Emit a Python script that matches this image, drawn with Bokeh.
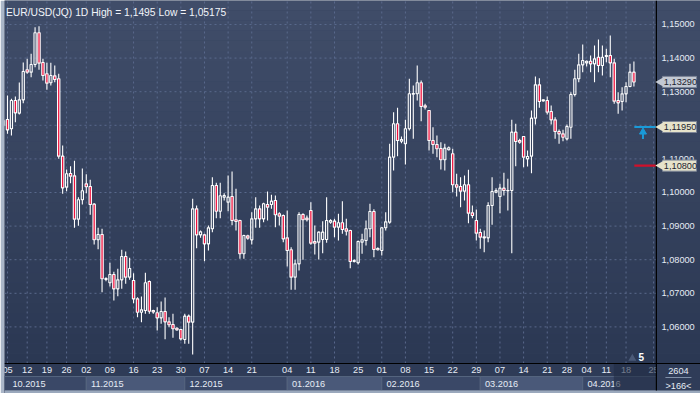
from bokeh.plotting import figure
from bokeh.models import Range1d, ColumnDataSource
from bokeh.core.properties import value
from bokeh.embed import file_html
from bokeh.resources import INLINE
import math

# ---------------- data (EUR/USD daily) ----------------
opens = [1.11994,1.12173,1.11895,1.12738,1.12361,1.12758,1.13651,1.13581,1.13810,1.14752,
         1.13869,1.13532,1.13264,1.13472,1.13383,1.11082,1.10159,1.10566,1.10496,1.09207,
         1.09782,1.10258,1.10179,1.09653,1.08592,1.08750,1.07411,1.07312,1.07560,1.07133,
         1.07401,1.08096,1.07481,1.07381,1.06835,1.06438,1.06488,1.07351,1.06488,1.06419,
         1.06270,1.06458,1.06151,1.06072,1.05962,1.05923,1.05625,1.06320,1.06141,1.09514,
         1.08740,1.08740,1.08472,1.08919,1.10208,1.09444,1.09861,1.09712,1.09881,1.09187,
         1.09167,1.08175,1.08710,1.08591,1.09216,1.09514,1.09216,1.09643,1.09643,1.09762,
         1.09366,1.09316,1.08651,1.08294,1.07481,1.07877,1.09346,1.09237,1.09465,1.08542,
         1.08522,1.08602,1.08602,1.09117,1.09147,1.08969,1.09098,1.08919,1.08869,1.07947,
         1.07907,1.08522,1.08572,1.08919,1.09435,1.08334,1.08274,1.08950,1.09117,1.11052,
         1.12044,1.11528,1.11449,1.11895,1.12927,1.12937,1.13264,1.12580,1.12441,1.11548,
         1.11429,1.11310,1.10973,1.11270,1.11151,1.10229,1.10179,1.10040,1.10229,1.09395,
         1.09167,1.08810,1.08681,1.08651,1.09614,1.10010,1.09882,1.10129,1.10060,1.10060,
         1.11796,1.11548,1.11667,1.11002,1.11081,1.12212,1.13204,1.12728,1.12738,1.12411,
         1.12162,1.11815,1.11746,1.11597,1.11944,1.12916,1.13383,1.13799,1.13859,1.13908,
         1.13829,1.14027,1.13779,1.14047,1.14077,1.13859,1.12738,1.12708,1.12936,1.13154,
         1.13581]
highs = [1.12193,1.12887,1.12788,1.12857,1.13274,1.13869,1.13978,1.14127,1.14921,1.14950,
         1.13978,1.13859,1.13859,1.13780,1.13532,1.11399,1.10685,1.10784,1.10943,1.09861,
         1.10715,1.10546,1.10377,1.09683,1.08949,1.08919,1.07481,1.07907,1.07639,1.07729,
         1.08294,1.08244,1.08056,1.07599,1.06885,1.06905,1.07609,1.07381,1.06508,1.06587,
         1.06756,1.06875,1.06290,1.06389,1.05992,1.05943,1.06389,1.06369,1.09812,1.09613,
         1.08869,1.08770,1.09018,1.10456,1.10288,1.10288,1.09980,1.10506,1.10625,1.10109,
         1.09187,1.08740,1.08740,1.09415,1.09861,1.09613,1.09692,1.10030,1.09931,1.09911,
         1.09415,1.09346,1.09465,1.08373,1.07996,1.09415,1.09386,1.09316,1.09713,1.09018,
         1.08840,1.09147,1.09862,1.09207,1.09217,1.09366,1.09742,1.09217,1.08889,1.08016,
         1.08572,1.08771,1.09167,1.09663,1.09505,1.08373,1.08969,1.09415,1.11449,1.12391,
         1.12520,1.11667,1.12163,1.13383,1.13185,1.13780,1.13334,1.12639,1.12451,1.11945,
         1.11697,1.11499,1.11449,1.11369,1.11300,1.10556,1.10457,1.10507,1.10675,1.09614,
         1.09495,1.08919,1.08870,1.09713,1.10457,1.10129,1.10258,1.10586,1.10407,1.12163,
         1.12044,1.11598,1.11677,1.11250,1.12440,1.13452,1.13402,1.12778,1.12857,1.12589,
         1.12242,1.11875,1.11865,1.12023,1.12986,1.13650,1.14127,1.14404,1.13928,1.14077,
         1.14375,1.14553,1.14375,1.14276,1.14672,1.13978,1.12986,1.13134,1.13283,1.13829,
         1.13898]
lows = [1.11945,1.11746,1.11697,1.12093,1.12322,1.12659,1.13532,1.13433,1.13730,1.13651,
        1.13333,1.13056,1.13185,1.13284,1.11002,1.09961,1.10040,1.10278,1.08949,1.09008,
        1.09643,1.09980,1.09336,1.08453,1.08314,1.07034,1.07362,1.07203,1.06786,1.06915,
        1.07133,1.07282,1.07401,1.06706,1.06290,1.06141,1.06389,1.06389,1.06389,1.05893,
        1.06091,1.05635,1.05992,1.05675,1.05893,1.05595,1.05496,1.05496,1.05175,1.08343,
        1.08651,1.07956,1.08274,1.08820,1.09236,1.09236,1.09762,1.09444,1.09028,1.08869,
        1.08026,1.08026,1.08591,1.08452,1.08948,1.08948,1.09117,1.09167,1.09514,1.08969,
        1.09018,1.08522,1.07798,1.07104,1.07104,1.07679,1.07996,1.09137,1.08442,1.08155,
        1.08006,1.08195,1.08502,1.09068,1.08671,1.08572,1.08770,1.08721,1.07749,1.07917,
        1.07858,1.08175,1.08423,1.08671,1.08076,1.08274,1.08125,1.08869,1.09068,1.10655,
        1.11082,1.11469,1.10834,1.11846,1.11598,1.12739,1.12123,1.12471,1.11251,1.11151,
        1.11052,1.10685,1.10655,1.11250,1.10011,1.09882,1.09564,1.09762,1.09088,1.09237,
        1.08572,1.08324,1.08225,1.08522,1.09038,1.09980,1.09385,1.09911,1.09465,1.08195,
        1.10784,1.11449,1.10754,1.10773,1.10575,1.12023,1.12519,1.12708,1.12321,1.12023,
        1.11597,1.11448,1.11527,1.11548,1.11597,1.12857,1.13283,1.13581,1.13750,1.13581,
        1.13283,1.13581,1.13482,1.13879,1.13432,1.12638,1.12341,1.12440,1.12688,1.13134,
        1.13154]
closes = [1.12143,1.11865,1.12738,1.12371,1.12758,1.13601,1.13581,1.13810,1.14752,1.13849,
          1.13482,1.13254,1.13482,1.13363,1.11082,1.10139,1.10556,1.10486,1.09207,1.09782,
          1.10050,1.10169,1.09643,1.08592,1.08750,1.07431,1.07441,1.07560,1.07133,1.07401,
          1.08096,1.07481,1.07738,1.06835,1.06438,1.06508,1.07312,1.06468,1.06448,1.06270,
          1.06458,1.06151,1.06062,1.05943,1.05913,1.05645,1.06320,1.06141,1.09514,1.08740,
          1.08829,1.08472,1.08948,1.10208,1.09444,1.09901,1.09911,1.09861,1.09167,1.09137,
          1.08175,1.08720,1.08641,1.09216,1.09514,1.09216,1.09663,1.09564,1.09742,1.09336,
          1.09296,1.08621,1.08274,1.07481,1.07877,1.09346,1.09187,1.09187,1.08492,1.08492,
          1.08820,1.08820,1.09167,1.09167,1.08969,1.09098,1.08899,1.08850,1.07947,1.07977,
          1.08542,1.08592,1.08919,1.09435,1.08304,1.08294,1.08950,1.09127,1.11052,1.12044,
          1.11548,1.11578,1.11895,1.12937,1.12947,1.13264,1.12560,1.12540,1.11548,1.11429,
          1.11300,1.10973,1.11320,1.11330,1.10229,1.10159,1.10040,1.10229,1.09385,1.09316,
          1.08790,1.08671,1.08651,1.09614,1.10030,1.10060,1.10129,1.10060,1.10050,1.11796,
          1.11518,1.11499,1.11052,1.11071,1.12212,1.13204,1.12708,1.12758,1.12391,1.12162,
          1.11815,1.11746,1.11646,1.11964,1.12916,1.13383,1.13799,1.13928,1.13908,1.13829,
          1.13978,1.13779,1.14027,1.14077,1.13859,1.12718,1.12668,1.12936,1.13154,1.13581,
          1.13290]

# weekly date labels (bar index where each week starts) and month blocks
week_bar = [1, 6, 11, 16, 21, 27, 33, 39, 45, 51, 57, 63, 72, 78, 84, 90, 96, 102, 108,
            114, 120, 126, 132, 138, 143, 148, 153, 158, 165]
week_lbl = ["05", "12", "19", "26", "02", "09", "16", "23", "30", "07", "14", "21", "04",
            "11", "18", "25", "01", "08", "15", "22", "29", "07", "14", "21", "28", "04",
            "11", "18", "25"]
month_bar = [0.24, 21, 46, 72, 96, 121, 147]
month_lbl = ["10.2015", "11.2015", "12.2015", "01.2016", "02.2016", "03.2016", "04.2016"]
price_ticks = [1.06, 1.07, 1.08, 1.09, 1.10, 1.11, 1.12, 1.13, 1.14, 1.15]
last_price = 1.13290
level_prices = [1.11950, 1.10800]
level_colors = ["#1a9ad8", "#d0102a"]
title_text = "EUR/USD(JQ) 1D High = 1,1495 Low = 1,05175"
bars_total_text = "2604"
bars_shown_text = ">166<"

# ---------------- layout constants ----------------
X0, X1 = 0.24, 176.9          # whole drawing area (chart + price scale)
XP = 165.7                    # right edge of the chart area / price scale line
X_FUT = 154.9                 # start of the shaded part of the date strip
Y0, Y1 = 1.04018, 1.15714
Y_PLOT_BOTTOM = 1.04911
Y_ROW = 1.04524
Y_MONTH_BOTTOM = 1.04107
FONT = "Liberation Sans"
TXT = "#e6ecf5"
FS = "9.2px"
RED = "#f0103c"

p = figure(width=700, height=393, x_range=Range1d(X0, X1), y_range=Range1d(Y0, Y1),
           output_backend="svg", toolbar_location=None, x_axis_location=None,
           y_axis_location=None, min_border_left=4, min_border_right=0,
           min_border_top=0, min_border_bottom=0, background_fill_color="#34425f",
           border_fill_color="#aab6c8", outline_line_color=None)
p.xgrid.visible = False
p.ygrid.visible = False

# background gradient bands (chart + price scale)
nb = 36
top_c = (64, 77, 105)
bot_c = (43, 56, 83)
bl, br, bb, bt, bc = [], [], [], [], []
for k in range(nb):
    t = k / (nb - 1)
    y_top = Y1 - (Y1 - Y_PLOT_BOTTOM) * k / nb
    y_bot = Y1 - (Y1 - Y_PLOT_BOTTOM) * (k + 1) / nb
    c = tuple(int(round(top_c[j] + (bot_c[j] - top_c[j]) * t)) for j in range(3))
    bl.append(X0); br.append(X1); bb.append(y_bot); bt.append(y_top)
    bc.append("#%02x%02x%02x" % c)
p.quad(left=bl, right=br, bottom=bb, top=bt, fill_color=bc, line_color=None)

# grid
grid_col = "#5a698c"
gx = [b for b in week_bar if b < XP]
p.segment(x0=gx, x1=gx, y0=[Y_PLOT_BOTTOM] * len(gx), y1=[Y1] * len(gx),
          line_color=grid_col, line_dash="2 3", line_width=1)
p.segment(x0=[X0] * len(price_ticks), x1=[XP] * len(price_ticks), y0=price_ticks, y1=price_ticks,
          line_color=grid_col, line_dash="2 3", line_width=1)

# candles
n = len(opens)
idx = list(range(n))
body_top = [max(o, c) for o, c in zip(opens, closes)]
body_bot = [min(o, c) for o, c in zip(opens, closes)]
is_down = [c < o for o, c in zip(opens, closes)]
src = ColumnDataSource(dict(x=idx, h=highs, l=lows, bt=body_top, bb=body_bot))
p.segment(x0="x", x1="x", y0="h", y1="bt", source=src, line_color="white", line_width=1.1)
p.segment(x0="x", x1="x", y0="bb", y1="l", source=src, line_color="white", line_width=1.1)
up = [i for i in idx if not is_down[i]]
dn = [i for i in idx if is_down[i]]
p.vbar(x=up, top=[body_top[i] for i in up], bottom=[body_bot[i] for i in up],
       width=0.55, fill_alpha=0, line_color="white", line_width=1.1)
p.vbar(x=dn, top=[body_top[i] for i in dn], bottom=[body_bot[i] for i in dn],
       width=0.6, fill_color=RED, line_color="white", line_width=1.1)

# level lines and arrow
p.segment(x0=[n - 0.9] * 2, x1=[XP] * 2, y0=level_prices, y1=level_prices,
          line_color=level_colors, line_width=2.2)
p.segment(x0=[n + 1.3], x1=[n + 1.3], y0=[level_prices[0] - 0.0036], y1=[level_prices[0] - 0.0017],
          line_color="#1a9ad8", line_width=2)
p.scatter(x=[n + 1.3], y=[level_prices[0] - 0.0015], marker="triangle", size=7,
          fill_color="#1a9ad8", line_color="#1a9ad8")

# "5" marker
p.scatter(x=[159.6], y=[1.0506], marker="triangle", size=8, fill_color="#4b5a78", line_color=None)
p.text(x=[161.9], y=[1.0509], text=["5"], text_align="center", text_baseline="middle",
       text_font=value(FONT), text_font_size="10px", text_font_style="bold", text_color="white")

# title
p.text(x=[0.6], y=[1.15357], text=[title_text], text_align="left", text_baseline="middle",
       text_font=value(FONT), text_font_size="10.3px", text_color="#f2f5fa")

# bottom date strip
p.quad(left=[X0], right=[XP], bottom=[Y0], top=[Y_PLOT_BOTTOM], fill_color="#2e3b57", line_color=None)
mb_right = month_bar[1:] + [XP]
mcols = ["#3a4867" if k % 2 == 0 else "#4a5979" for k in range(len(month_bar))]
p.quad(left=month_bar, right=mb_right, bottom=[Y_MONTH_BOTTOM] * len(month_bar),
       top=[Y_ROW] * len(month_bar), fill_color=mcols, line_color="#56657f", line_width=1)
p.text(x=week_bar, y=[1.04717] * len(week_bar), text=week_lbl, text_align="center",
       text_baseline="middle", text_font=value(FONT), text_font_size=FS, text_color=TXT)
p.text(x=[max(m, X0 + 0.8) + 1.2 for m in month_bar], y=[1.04315] * len(month_bar),
       text=month_lbl, text_align="left", text_baseline="middle", text_font=value(FONT),
       text_font_size=FS, text_color=TXT)
p.quad(left=[X_FUT], right=[XP], bottom=[Y_MONTH_BOTTOM], top=[Y_PLOT_BOTTOM],
       fill_color="#222d45", fill_alpha=0.6, line_color=None)

# price scale panel (right) and its lower box
p.quad(left=[XP], right=[X1], bottom=[Y0], top=[Y_PLOT_BOTTOM], fill_color="#2f3c58", line_color=None)
p.quad(left=[X0], right=[X1], bottom=[Y0], top=[Y_MONTH_BOTTOM], fill_color="#9aa8bc", line_color=None)
p.segment(x0=[X0], x1=[X1], y0=[Y_PLOT_BOTTOM], y1=[Y_PLOT_BOTTOM], line_color="black", line_width=1.2)
p.segment(x0=[XP], x1=[XP], y0=[Y_MONTH_BOTTOM], y1=[Y1], line_color="black", line_width=1.2)

tick_lbl = [("%.5f" % t).replace(".", ",") for t in price_ticks]
p.text(x=[167.0] * len(price_ticks), y=price_ticks, text=tick_lbl, text_align="left",
       text_baseline="middle", text_font=value(FONT), text_font_size=FS, text_color=TXT)

# price callouts on the scale
c_prices = [last_price] + level_prices
c_fill = ["#c3c9d3", "#e6e3cb", "#e6e3cb"]
hh = 0.00165
p.quad(left=[167.25] * 3, right=[175.9] * 3, bottom=[v - hh for v in c_prices],
       top=[v + hh for v in c_prices], fill_color=c_fill, line_color="#7d8698", line_width=1)
p.scatter(x=[166.75] * 3, y=c_prices, marker="triangle", size=9, angle=math.pi / 2,
          fill_color=c_fill, line_color=None)
p.text(x=[167.6] * 3, y=c_prices, text=[("%.5f" % v).replace(".", ",") for v in c_prices],
       text_align="left", text_baseline="middle", text_font=value(FONT), text_font_size=FS,
       text_color="#1c2330")

# bars counter panel (bottom right)
p.text(x=[171.3, 171.3], y=[1.04702, 1.04256], text=[bars_total_text, bars_shown_text],
       text_align="center", text_baseline="middle", text_font=value(FONT), text_font_size=FS,
       text_color=TXT)
p.segment(x0=[168.0], x1=[174.6], y0=[1.04494], y1=[1.04494], line_color="#8090a8", line_width=1)

open("out.html", "w").write(file_html(p, INLINE))
